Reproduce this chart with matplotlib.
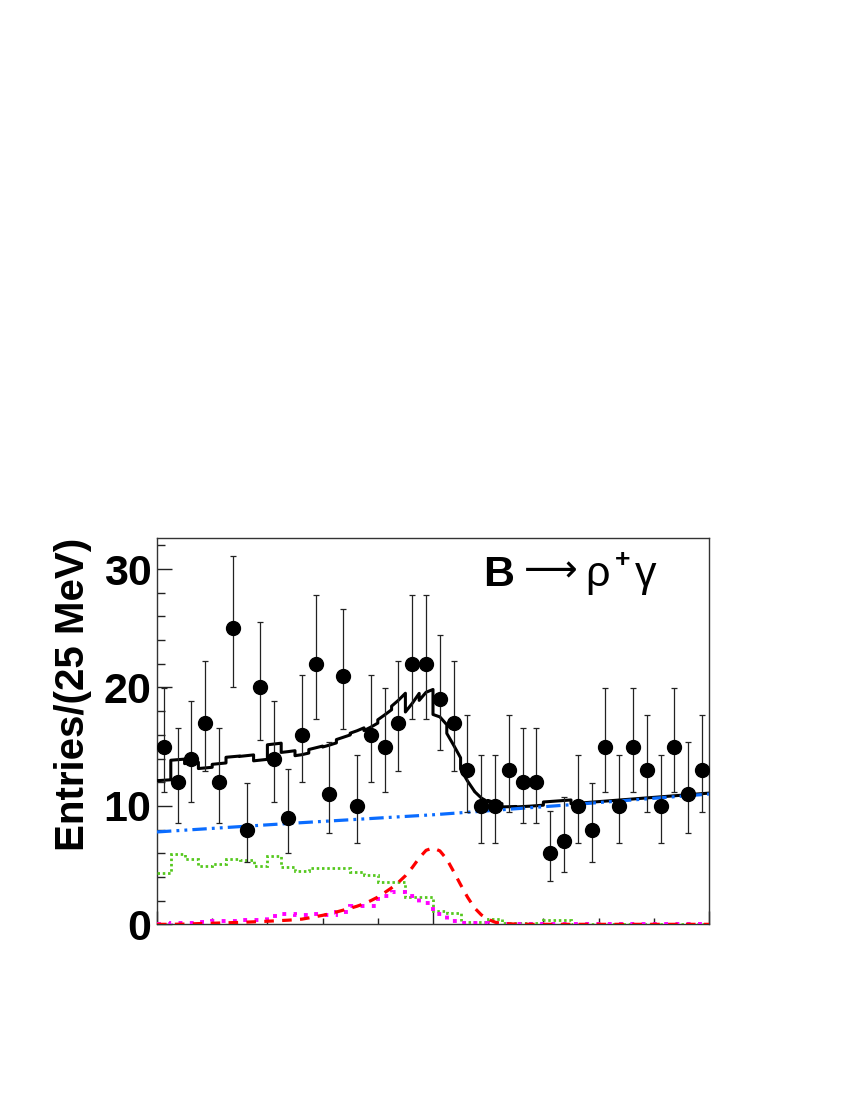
import numpy as np
import matplotlib
matplotlib.use("Agg")
import matplotlib.pyplot as plt
from matplotlib.ticker import MultipleLocator, FixedLocator, NullFormatter

# data: counts per 25 MeV bin, Delta E in [-0.5, 0.5] GeV
counts = [15, 12, 14, 17, 12, 25, 8, 20, 14, 9, 16, 22, 11, 21, 10, 16, 15, 17, 22, 22,
          19, 17, 13, 10, 10, 13, 12, 12, 6, 7, 10, 8, 15, 10, 15, 13, 10, 15, 11, 13]

# other B background (histogram pdf, green)
other_b = [4.3, 5.9, 5.5, 4.9, 5.07, 5.5, 5.4, 4.9, 5.77, 4.87, 4.5, 4.73, 4.73, 4.73,
           4.4, 4.17, 3.6, 3.6, 2.3, 2.3, 1.15, 0.99, 0.22, 0.22, 0.42, 0.14, 0.1, 0.1,
           0.37, 0.37, 0.05, 0.05, 0.05, 0.05, 0.05, 0.05, 0.05, 0.05, 0.05, 0.05]

# K* gamma cross feed (histogram pdf, magenta)
kstar = [0.03, 0.08, 0.1, 0.17, 0.25, 0.3, 0.37, 0.37, 0.73, 0.85, 0.8, 0.87, 0.79, 1.07,
         1.55, 1.55, 2.4, 2.7, 2.42, 1.83, 0.87, 0.3, 0.12, 0.1, 0.03, 0.03, 0.03, 0.03,
         0.03, 0.03, 0.03, 0.03, 0.03, 0.03, 0.03, 0.03, 0.03, 0.03, 0.03, 0.03]

# continuum (blue)
cont_x = [-0.5, -0.25, 0.0, 0.25, 0.5]
cont_y = [7.8, 8.55, 9.25, 10.1, 11.0]

# signal (red)
sig_x = [-0.5, -0.475, -0.45, -0.425, -0.4, -0.375, -0.35, -0.325, -0.3, -0.2875,
         -0.275, -0.2625, -0.25, -0.2375, -0.225, -0.2125, -0.2, -0.1875, -0.175,
         -0.1625, -0.15, -0.1375, -0.125, -0.1125, -0.1, -0.0875, -0.075, -0.0625,
         -0.05, -0.0375, -0.025, -0.0125, 0.0, 0.0125, 0.025, 0.0375, 0.05, 0.0625,
         0.075, 0.0875, 0.1, 0.1125, 0.125, 0.15, 0.175, 0.2, 0.225, 0.25, 0.275,
         0.3, 0.325, 0.35, 0.375, 0.4, 0.425, 0.45, 0.475, 0.5]
sig_y = [0.0, 0.0, 0.02, 0.06, 0.09, 0.13, 0.16, 0.21, 0.26, 0.29,
         0.32, 0.35, 0.39, 0.44, 0.54, 0.65, 0.76, 0.89, 1.04,
         1.2, 1.36, 1.53, 1.74, 2.0, 2.3, 2.68, 3.08, 3.55,
         4.1, 4.8, 5.6, 6.25, 6.45, 6.2, 5.5, 4.45, 3.35, 2.3,
         1.4, 0.8, 0.42, 0.18, 0.07, 0.02, 0.0, 0.0, 0.0, 0.0, 0.0,
         0.0, 0.0, 0.0, 0.0, 0.0, 0.0, 0.0, 0.0, 0.0]

edges = np.linspace(-0.5, 0.5, len(counts) + 1)
centers = 0.5 * (edges[:-1] + edges[1:])
n = np.array(counts, dtype=float)
# Poisson (Gehrels) asymmetric errors
err_hi = np.sqrt(n + 0.75) + 1.0
err_lo = n - n * (1 - 1 / (9 * n) - 1 / (3 * np.sqrt(n))) ** 3

# total fit = sum of components
sx = np.array(sig_x)
sy = np.array(sig_y)
tot_x, tot_y = [], []
for k in range(len(counts)):
    m = (sx >= edges[k] - 1e-9) & (sx <= edges[k + 1] + 1e-9)
    xs = sx[m]
    ys = sy[m] + np.interp(xs, cont_x, cont_y) + other_b[k] + kstar[k]
    tot_x.extend(xs)
    tot_y.extend(ys)

plt.rcParams['font.family'] = ['Liberation Sans', 'DejaVu Sans']

fig = plt.figure(figsize=(8.5, 11), dpi=100)
ax = fig.add_axes([0.1847, 0.1597, 0.6494, 0.3510])

ax.plot(tot_x, tot_y, color='black', lw=2.2, zorder=3)
ax.plot(cont_x, cont_y, color='#0a6cff', lw=2.3,
        linestyle=(0, (4.5, 1.6, 0.9, 1.6, 0.9, 1.6)), zorder=4)
ax.stairs(other_b, edges, baseline=None, color='#55c81e', lw=2.0,
          linestyle=(0, (0.9, 1.0)), zorder=4)
ax.stairs(kstar, edges, baseline=None, color='#ff00ff', lw=2.8,
          linestyle=(0, (1.0, 1.9)), zorder=4)
ax.plot(sig_x, sig_y, color='#ff0000', lw=2.3, linestyle=(0, (3.0, 2.6)), zorder=4)

ax.errorbar(centers, n, yerr=[err_lo, err_hi], fmt='o', color='black', ms=10,
            elinewidth=0.9, ecolor='#222222', capsize=2.4, capthick=0.9, zorder=5)

ax.set_xlim(-0.5, 0.5)
ax.set_ylim(0, 32.6)

ax.xaxis.set_major_locator(FixedLocator([-0.5, 0.0, 0.5]))
ax.xaxis.set_minor_locator(MultipleLocator(0.1))
ax.xaxis.set_major_formatter(NullFormatter())
ax.yaxis.set_major_locator(MultipleLocator(10))
ax.yaxis.set_minor_locator(MultipleLocator(2))
ax.tick_params(axis='both', which='both', direction='in', top=False, right=False,
               width=1.0, color='#222222')
ax.tick_params(axis='y', which='major', length=11, pad=4)
ax.tick_params(axis='y', which='minor', length=6)
ax.tick_params(axis='x', which='major', length=9.5)
ax.tick_params(axis='x', which='minor', length=4.5)
for lab in ax.get_yticklabels():
    lab.set_fontsize(31)
    lab.set_fontweight('bold')
for sp in ax.spines.values():
    sp.set_linewidth(1.0)
    sp.set_color('#333333')

ax.set_ylabel('Entries/(25 MeV)', fontsize=29, fontweight='bold', loc='top')
ax.yaxis.set_label_coords(-0.118, 1.0)

ty = 0.875
ax.text(0.590, ty, 'B', transform=ax.transAxes, fontsize=31, fontweight='bold',
        va='baseline', ha='left')
ax.text(0.665, ty + 0.012, '\u27f6', transform=ax.transAxes, fontsize=27,
        family=['DejaVu Sans'], va='baseline', ha='left')
ax.text(0.776, ty, '\u03c1', transform=ax.transAxes, fontsize=31,
        va='baseline', ha='left')
ax.text(0.830, ty + 0.05, '+', transform=ax.transAxes, fontsize=19, fontweight='bold',
        va='baseline', ha='left')
ax.text(0.866, ty, '\u03b3', transform=ax.transAxes, fontsize=31,
        va='baseline', ha='left')

fig.savefig('out.png', dpi=100)
